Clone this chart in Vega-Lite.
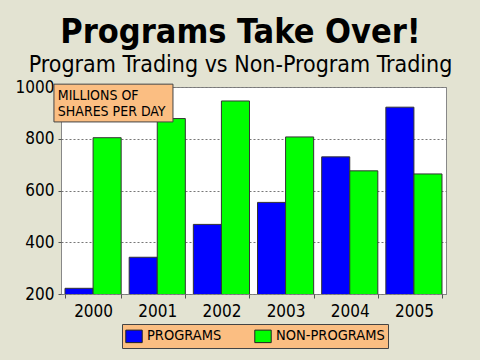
{
  "$schema": "https://vega.github.io/schema/vega-lite/v6.json",
  "width": 385,
  "height": 207,
  "autosize": "none",
  "padding": {"left": 61, "top": 87, "right": 34, "bottom": 66},
  "background": "#e3e3d2",
  "title": {
    "text": "Programs Take Over!",
    "subtitle": "Program Trading vs Non-Program Trading",
    "anchor": "middle",
    "frame": "group",
    "dx": -13,
    "font": "DejaVu Sans Condensed",
    "fontSize": 34,
    "fontWeight": "bold",
    "color": "black",
    "subtitleFont": "DejaVu Sans Condensed",
    "subtitleFontSize": 23,
    "subtitleColor": "black",
    "subtitlePadding": 4,
    "offset": 1
  },
  "config": {
    "font": "DejaVu Sans Condensed",
    "view": {"fill": "white", "stroke": "#888888", "strokeWidth": 1}
  },
  "layer": [
    {
      "data": {
        "values": [
          {"year": "2000", "series": "PROGRAMS", "value": 222},
          {"year": "2000", "series": "NON-PROGRAMS", "value": 804},
          {"year": "2001", "series": "PROGRAMS", "value": 342},
          {"year": "2001", "series": "NON-PROGRAMS", "value": 878},
          {"year": "2002", "series": "PROGRAMS", "value": 469},
          {"year": "2002", "series": "NON-PROGRAMS", "value": 946},
          {"year": "2003", "series": "PROGRAMS", "value": 554},
          {"year": "2003", "series": "NON-PROGRAMS", "value": 807},
          {"year": "2004", "series": "PROGRAMS", "value": 730},
          {"year": "2004", "series": "NON-PROGRAMS", "value": 676},
          {"year": "2005", "series": "PROGRAMS", "value": 922},
          {"year": "2005", "series": "NON-PROGRAMS", "value": 664}
        ]
      },
      "mark": {"type": "bar", "stroke": "#333333", "strokeWidth": 1, "clip": true},
      "encoding": {
        "x": {
          "field": "year",
          "type": "nominal",
          "scale": {"paddingInner": 0.125, "paddingOuter": 0.0625},
          "axis": {
            "title": null,
            "labelAngle": 0,
            "labelFontSize": 17,
            "labelColor": "black",
            "labelPadding": 5,
            "tickBand": "extent",
            "tickSize": 4,
            "tickColor": "#555555",
            "domain": false,
            "grid": false
          }
        },
        "xOffset": {"field": "series", "sort": ["PROGRAMS", "NON-PROGRAMS"]},
        "y": {
          "field": "value",
          "type": "quantitative",
          "scale": {"domain": [200, 1000], "nice": false, "zero": false},
          "axis": {
            "title": null,
            "values": [200, 400, 600, 800, 1000],
            "format": "d",
            "labelFontSize": 17,
            "labelColor": "black",
            "labelPadding": 4,
            "tickSize": 3,
            "tickColor": "#555555",
            "domain": false,
            "grid": true,
            "gridColor": "#777777",
            "gridDash": [2, 2],
            "gridWidth": 1
          }
        },
        "color": {
          "field": "series",
          "type": "nominal",
          "sort": ["PROGRAMS", "NON-PROGRAMS"],
          "scale": {"domain": ["PROGRAMS", "NON-PROGRAMS"], "range": ["#0000ff", "#00ff00"]},
          "legend": {
            "title": null,
            "orient": "none",
            "legendX": 61,
            "legendY": 237,
            "direction": "horizontal",
            "fillColor": "#fbbe82",
            "strokeColor": "#444444",
            "padding": 3,
            "symbolType": "M-1,-0.76H1V0.76H-1Z",
            "symbolSize": 270,
            "symbolStrokeColor": "#222222",
            "symbolStrokeWidth": 1,
            "symbolOpacity": 1,
            "labelFontSize": 14.5,
            "labelColor": "black",
            "labelOffset": 4,
            "columnPadding": 30
          }
        }
      }
    },
    {
      "data": {"values": [{"label": "MILLIONS OF\nSHARES PER DAY"}]},
      "layer": [
        {
          "mark": {"type": "rect", "fill": "#fbbe82", "stroke": "#444444", "strokeWidth": 1, "clip": false},
          "encoding": {
            "x": {"datum": -0.11, "type": "quantitative", "scale": {"domain": [0, 6], "nice": false, "zero": false}, "axis": null},
            "x2": {"datum": 1.745},
            "y": {"datum": 1011, "type": "quantitative"},
            "y2": {"datum": 865}
          }
        },
        {
          "mark": {"type": "text", "align": "left", "baseline": "alphabetic", "fontSize": 14, "lineHeight": 16, "lineBreak": "\n", "color": "black", "clip": false},
          "encoding": {
            "x": {"datum": -0.05, "type": "quantitative"},
            "y": {"datum": 950, "type": "quantitative"},
            "text": {"field": "label"}
          }
        }
      ]
    }
  ],
  "resolve": {"scale": {"x": "independent"}, "axis": {"x": "independent"}}
}
